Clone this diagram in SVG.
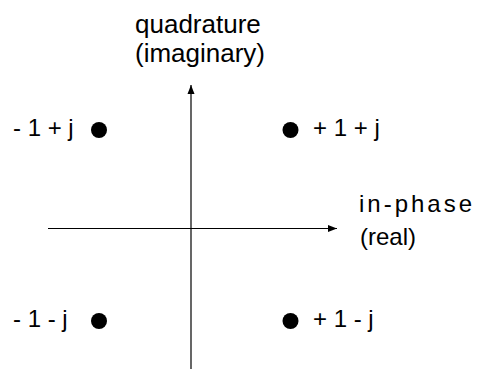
<svg xmlns="http://www.w3.org/2000/svg" width="477" height="369" viewBox="0 0 477 369">
<style>
text{font-family:"Liberation Sans",Arial,sans-serif;fill:#000}
.t{font-size:26px}
.l{font-size:24px}
.dot{fill:#000}
</style>
<defs>
<marker id="ah" markerWidth="10" markerHeight="8" refX="9" refY="4" orient="auto" markerUnits="userSpaceOnUse">
<path d="M0,0.5 L9,4 L0,7.5 z" fill="#000"/>
</marker>
</defs>
<rect width="477" height="369" fill="#fff"/>
<g id="connectors">
<line x1="191" y1="369" x2="191" y2="85" stroke="#000" stroke-width="1.2" marker-end="url(#ah)"/>
<line x1="48" y1="228.5" x2="337" y2="228.5" stroke="#000" stroke-width="1.2" marker-end="url(#ah)"/>
</g>
<g id="axis-q">
<text class="t" x="135" y="33">quadrature</text>
<text class="t" x="135" y="62">(imaginary)</text>
</g>
<g id="axis-i">
<text class="l" x="359" y="212" letter-spacing="3">in-phase</text>
<text class="l" x="360" y="245">(real)</text>
</g>
<g id="p1">
<circle class="dot" cx="99" cy="130" r="8"/>
<text class="l" x="13" y="136" xml:space="preserve">- 1 + j</text>
</g>
<g id="p2">
<circle class="dot" cx="290.5" cy="130" r="8"/>
<text class="l" x="313" y="136" xml:space="preserve">+ 1 + j</text>
</g>
<g id="p3">
<circle class="dot" cx="99" cy="321" r="8"/>
<text class="l" x="13" y="327" xml:space="preserve">- 1 - j</text>
</g>
<g id="p4">
<circle class="dot" cx="290.5" cy="321" r="8"/>
<text class="l" x="313" y="327" xml:space="preserve">+ 1 - j</text>
</g>
</svg>
